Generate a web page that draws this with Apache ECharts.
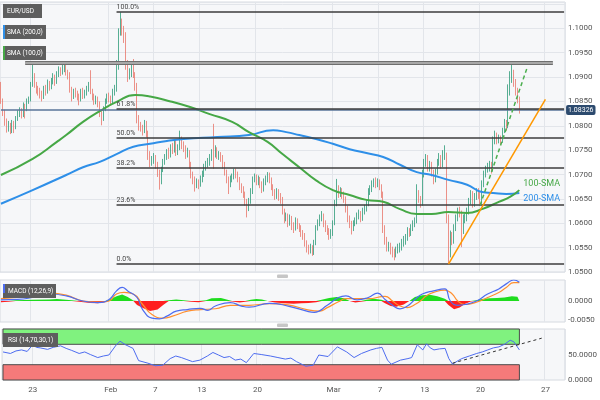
<!DOCTYPE html>
<html><head><meta charset="utf-8">
<script src="https://cdn.jsdelivr.net/npm/echarts@6/dist/echarts.min.js"></script>
<style>html,body{margin:0;padding:0;background:#fff}#c{width:600px;height:400px}</style>
</head><body><div id="c"></div>
<script>
// ---- axis ticks (4H slots, index of the labelled slot) ----
const slotCount = 303;
const tickIdx = [16,58,82,107,137,178,203,227,257,292];
const tickLabels = ['23','Feb','7','13','20','Mar','7','13','20','27'];

// ---- EUR/USD 4H candles ----
const firstOpen = 1.0885;
const closes = [
1.0850,1.0828,1.0808,1.0795,1.0800,1.0790,1.0805,1.0798,1.0815,1.0825,
1.0830,1.0822,1.0840,1.0835,1.0850,1.0855,1.0885,1.0900,1.0885,1.0875,
1.0870,1.0865,1.0860,1.0875,1.0870,1.0885,1.0880,1.0890,1.0900,1.0890,
1.0905,1.0915,1.0910,1.0918,1.0920,1.0910,1.0905,1.0875,1.0860,1.0870,
1.0865,1.0860,1.0855,1.0870,1.0862,1.0868,1.0875,1.0880,1.0870,1.0860,
1.0850,1.0855,1.0845,1.0825,1.0815,1.0835,1.0850,1.0860,1.0855,1.0850,
1.0870,1.0875,1.0920,1.0990,1.1010,1.0995,1.0985,1.0925,1.0905,1.0910,
1.0915,1.0905,1.0880,1.0815,1.0800,1.0795,1.0790,1.0805,1.0785,1.0740,
1.0725,1.0730,1.0735,1.0720,1.0705,1.0685,1.0710,1.0725,1.0735,1.0745,
1.0740,1.0755,1.0750,1.0765,1.0745,1.0755,1.0770,1.0760,1.0755,1.0740,
1.0745,1.0720,1.0700,1.0690,1.0680,1.0685,1.0680,1.0690,1.0700,1.0715,
1.0720,1.0725,1.0735,1.0745,1.0740,1.0750,1.0740,1.0740,1.0735,1.0720,
1.0705,1.0690,1.0680,1.0690,1.0695,1.0705,1.0700,1.0690,1.0675,1.0670,
1.0660,1.0645,1.0630,1.0645,1.0665,1.0690,1.0695,1.0685,1.0690,1.0680,
1.0670,1.0685,1.0690,1.0700,1.0690,1.0675,1.0665,1.0655,1.0665,1.0655,
1.0650,1.0625,1.0610,1.0615,1.0600,1.0610,1.0595,1.0590,1.0605,1.0595,
1.0590,1.0580,1.0575,1.0560,1.0548,1.0545,1.0550,1.0540,1.0560,1.0590,
1.0600,1.0610,1.0615,1.0600,1.0590,1.0585,1.0575,1.0580,1.0600,1.0640,
1.0670,1.0660,1.0665,1.0660,1.0650,1.0630,1.0610,1.0600,1.0590,1.0600,
1.0605,1.0615,1.0620,1.0610,1.0625,1.0630,1.0640,1.0665,1.0670,1.0680,
1.0685,1.0680,1.0685,1.0675,1.0660,1.0590,1.0565,1.0550,1.0555,1.0545,
1.0540,1.0535,1.0545,1.0550,1.0550,1.0560,1.0565,1.0570,1.0585,1.0580,
1.0590,1.0600,1.0605,1.0660,1.0650,1.0640,1.0700,1.0725,1.0735,1.0715,
1.0720,1.0705,1.0690,1.0705,1.0725,1.0735,1.0720,1.0740,1.0740,1.0610,
1.0540,1.0575,1.0565,1.0590,1.0610,1.0625,1.0620,1.0585,1.0610,1.0610,
1.0625,1.0645,1.0660,1.0640,1.0655,1.0665,1.0660,1.0645,1.0680,1.0700,
1.0710,1.0715,1.0720,1.0710,1.0770,1.0780,1.0770,1.0775,1.0770,1.0790,
1.0805,1.0800,1.0870,1.0895,1.0910,1.0890,1.0870,1.0855,1.0833];
const highs = [
1.0890,1.0856,1.0833,1.0815,1.0810,1.0806,1.0812,1.0810,1.0820,1.0832,
1.0838,1.0836,1.0848,1.0845,1.0856,1.0860,1.0890,1.0927,1.0908,1.0890,
1.0882,1.0878,1.0872,1.0882,1.0884,1.0895,1.0892,1.0898,1.0908,1.0905,
1.0912,1.0922,1.0920,1.0925,1.0929,1.0928,1.0915,1.0910,1.0880,1.0876,
1.0878,1.0872,1.0866,1.0876,1.0878,1.0874,1.0882,1.0890,1.0914,1.0876,
1.0866,1.0862,1.0860,1.0850,1.0830,1.0840,1.0856,1.0866,1.0868,1.0862,
1.0876,1.0884,1.0935,1.1000,1.1033,1.1020,1.1005,1.0992,1.0935,1.0918,
1.0925,1.0937,1.0910,1.0888,1.0822,1.0808,1.0802,1.0812,1.0810,1.0790,
1.0748,1.0738,1.0744,1.0740,1.0726,1.0710,1.0716,1.0732,1.0742,1.0752,
1.0755,1.0762,1.0765,1.0772,1.0770,1.0762,1.0790,1.0778,1.0768,1.0760,
1.0755,1.0750,1.0726,1.0706,1.0696,1.0692,1.0690,1.0698,1.0708,1.0722,
1.0728,1.0734,1.0742,1.0752,1.0804,1.0760,1.0756,1.0748,1.0746,1.0740,
1.0726,1.0710,1.0696,1.0698,1.0702,1.0712,1.0712,1.0706,1.0695,1.0682,
1.0676,1.0665,1.0650,1.0652,1.0672,1.0696,1.0702,1.0700,1.0698,1.0695,
1.0686,1.0692,1.0698,1.0705,1.0704,1.0694,1.0680,1.0670,1.0672,1.0670,
1.0662,1.0654,1.0630,1.0622,1.0620,1.0618,1.0615,1.0602,1.0612,1.0610,
1.0600,1.0596,1.0586,1.0580,1.0565,1.0556,1.0558,1.0555,1.0566,1.0596,
1.0608,1.0618,1.0625,1.0620,1.0606,1.0596,1.0590,1.0588,1.0606,1.0648,
1.0691,1.0678,1.0674,1.0672,1.0665,1.0655,1.0636,1.0616,1.0605,1.0606,
1.0612,1.0622,1.0628,1.0625,1.0632,1.0638,1.0648,1.0672,1.0678,1.0688,
1.0692,1.0694,1.0692,1.0690,1.0680,1.0665,1.0596,1.0572,1.0562,1.0560,
1.0552,1.0548,1.0552,1.0558,1.0560,1.0568,1.0574,1.0578,1.0592,1.0590,
1.0598,1.0606,1.0612,1.0680,1.0668,1.0656,1.0710,1.0732,1.0742,1.0740,
1.0728,1.0726,1.0710,1.0712,1.0732,1.0744,1.0740,1.0750,1.0760,1.0745,
1.0618,1.0585,1.0582,1.0598,1.0618,1.0632,1.0634,1.0626,1.0618,1.0620,
1.0632,1.0652,1.0668,1.0666,1.0662,1.0672,1.0672,1.0665,1.0688,1.0708,
1.0718,1.0724,1.0728,1.0726,1.0778,1.0790,1.0786,1.0782,1.0780,1.0796,
1.0814,1.0812,1.0885,1.0912,1.0930,1.0915,1.0896,1.0878,1.0860];
const lows = [
1.0845,1.0820,1.0800,1.0786,1.0788,1.0783,1.0785,1.0785,1.0793,1.0810,
1.0818,1.0815,1.0818,1.0815,1.0830,1.0845,1.0850,1.0880,1.0878,1.0866,
1.0862,1.0856,1.0850,1.0855,1.0862,1.0866,1.0872,1.0875,1.0885,1.0882,
1.0886,1.0900,1.0902,1.0905,1.0910,1.0903,1.0895,1.0868,1.0850,1.0855,
1.0858,1.0852,1.0842,1.0850,1.0855,1.0856,1.0862,1.0870,1.0865,1.0852,
1.0843,1.0844,1.0838,1.0818,1.0801,1.0810,1.0830,1.0845,1.0848,1.0842,
1.0845,1.0862,1.0870,1.0915,1.0985,1.0985,1.0970,1.0915,1.0890,1.0895,
1.0900,1.0898,1.0872,1.0805,1.0790,1.0788,1.0780,1.0785,1.0776,1.0730,
1.0715,1.0718,1.0722,1.0712,1.0695,1.0669,1.0680,1.0705,1.0720,1.0730,
1.0732,1.0735,1.0742,1.0745,1.0738,1.0740,1.0750,1.0752,1.0746,1.0732,
1.0735,1.0712,1.0692,1.0680,1.0665,1.0672,1.0670,1.0675,1.0684,1.0695,
1.0708,1.0714,1.0718,1.0728,1.0712,1.0735,1.0732,1.0730,1.0726,1.0712,
1.0698,1.0682,1.0660,1.0674,1.0684,1.0690,1.0692,1.0684,1.0668,1.0662,
1.0652,1.0636,1.0612,1.0625,1.0640,1.0660,1.0684,1.0678,1.0678,1.0672,
1.0662,1.0665,1.0678,1.0684,1.0682,1.0668,1.0656,1.0648,1.0650,1.0646,
1.0640,1.0618,1.0600,1.0604,1.0592,1.0595,1.0586,1.0580,1.0585,1.0588,
1.0582,1.0572,1.0566,1.0552,1.0540,1.0536,1.0538,1.0533,1.0535,1.0555,
1.0585,1.0594,1.0604,1.0592,1.0582,1.0576,1.0566,1.0568,1.0574,1.0596,
1.0635,1.0652,1.0654,1.0650,1.0642,1.0622,1.0602,1.0590,1.0577,1.0584,
1.0594,1.0598,1.0608,1.0602,1.0605,1.0618,1.0624,1.0635,1.0658,1.0664,
1.0674,1.0672,1.0674,1.0668,1.0652,1.0580,1.0556,1.0542,1.0542,1.0536,
1.0530,1.0524,1.0530,1.0538,1.0540,1.0544,1.0552,1.0556,1.0564,1.0572,
1.0574,1.0584,1.0592,1.0600,1.0642,1.0632,1.0636,1.0694,1.0716,1.0706,
1.0706,1.0696,1.0680,1.0684,1.0700,1.0718,1.0712,1.0715,1.0730,1.0600,
1.0516,1.0530,1.0555,1.0558,1.0584,1.0604,1.0612,1.0551,1.0578,1.0600,
1.0604,1.0618,1.0638,1.0632,1.0634,1.0648,1.0650,1.0636,1.0640,1.0674,
1.0694,1.0704,1.0706,1.0702,1.0706,1.0762,1.0762,1.0764,1.0762,1.0765,
1.0785,1.0790,1.0795,1.0862,1.0888,1.0880,1.0862,1.0846,1.0825];

// ---- moving averages [slot, value] ----
const sma100 = [[0,1.0699],[17,1.0732],[30,1.0767],[35,1.0781],[44,1.0808],[53,1.0830],[62,1.0849],[72,1.0863],[80,1.0860],[91,1.0850],[101,1.0839],[112,1.0824],[124,1.0808],[133,1.0787],[143,1.0767],[151,1.0742],[160,1.0715],[169,1.0688],[178,1.0668],[187,1.0658],[196,1.0648],[205,1.0644],[214,1.0629],[223,1.0619],[231,1.0619],[240,1.0623],[250,1.0621],[258,1.0629],[267,1.0644],[273,1.0654],[278,1.0668]];
const sma200 = [[0,1.0640],[17,1.0668],[35,1.0699],[44,1.0715],[53,1.0726],[62,1.0742],[71,1.0757],[80,1.0763],[89,1.0769],[98,1.0773],[116,1.0777],[133,1.0781],[146,1.0791],[153,1.0787],[160,1.0781],[169,1.0773],[178,1.0763],[187,1.0752],[196,1.0744],[205,1.0736],[214,1.0720],[223,1.0705],[231,1.0699],[240,1.0689],[250,1.0679],[258,1.0664],[264,1.0662],[271,1.0660],[278,1.0662]];

// ---- levels ----
const fibLevels = [1.1033,1.08355,1.07745,1.07135,1.0638,1.0516];
const fibLabels = ['100.0%','61.8%','50.0%','38.2%','23.6%','0.0%'];
const lastPrice = 1.08326;
const resistance = 1.0930;
const supportLine = [[240,1.0516],[292,1.0854]];
const channelLine = [[257,1.0637],[282,1.0917]];

// ---- MACD (12,26,9) [slot, value] ----
const macdLine = [[0,0.0003],[9,0.0004],[17,0.0009],[26,0.0018],[35,0.0013],[44,0.0000],[52,-0.0004],[58,0.0004],[62,0.0026],[65,0.0035],[68,0.0026],[73,0.0009],[76,-0.0022],[81,-0.0044],[85,-0.0046],[89,-0.0039],[94,-0.0026],[100,-0.0022],[107,-0.0019],[111,-0.0024],[115,-0.0013],[123,-0.0004],[129,-0.0013],[133,-0.0016],[144,-0.0006],[154,-0.0013],[164,-0.0026],[168,-0.0029],[175,-0.0011],[181,0.0009],[185,0.0013],[191,0.0003],[197,0.0009],[202,0.0020],[206,0.0004],[210,-0.0011],[214,-0.0020],[218,-0.0013],[222,0.0004],[226,0.0018],[232,0.0026],[238,0.0031],[241,0.0000],[245,-0.0011],[249,-0.0009],[255,0.0000],[261,0.0018],[267,0.0031],[271,0.0044],[275,0.0054],[278,0.0048]];
const signalLine = [[0,0.0006],[17,0.0013],[26,0.0020],[35,0.0015],[44,0.0000],[53,-0.0003],[58,0.0000],[62,0.0018],[66,0.0022],[71,0.0018],[76,-0.0009],[81,-0.0035],[87,-0.0044],[92,-0.0039],[100,-0.0026],[107,-0.0022],[115,-0.0020],[123,-0.0011],[133,-0.0011],[144,-0.0007],[154,-0.0010],[164,-0.0022],[171,-0.0026],[175,-0.0017],[181,-0.0002],[185,0.0006],[197,0.0006],[206,0.0012],[210,0.0000],[214,-0.0013],[218,-0.0017],[222,-0.0009],[226,0.0004],[228,0.0013],[232,0.0022],[238,0.0028],[242,0.0018],[245,0.0000],[249,-0.0009],[255,-0.0003],[261,0.0009],[267,0.0022],[271,0.0035],[275,0.0047],[278,0.0047]];
const macdHist = [[0,-0.0003],[4,-0.0002],[8,0.0002],[17,0.0003],[26,0.0004],[30,0.0005],[38,0.0002],[42,-0.0002],[48,-0.0005],[52,-0.0006],[56,-0.0002],[58,0.0003],[62,0.0012],[65,0.0017],[68,0.0010],[71,0.0001],[73,-0.0010],[77,-0.0020],[80,-0.0026],[84,-0.0022],[87,-0.0010],[90,0.0002],[94,0.0004],[98,0.0002],[102,-0.0002],[106,-0.0003],[110,0.0002],[113,0.0007],[118,0.0008],[121,0.0004],[124,-0.0001],[128,-0.0004],[131,-0.0002],[134,0.0003],[137,0.0005],[140,0.0004],[143,0.0000],[147,-0.0004],[152,-0.0006],[157,-0.0007],[161,-0.0006],[165,-0.0005],[169,-0.0003],[172,0.0003],[176,0.0008],[180,0.0010],[184,0.0007],[187,0.0000],[190,-0.0004],[193,-0.0002],[196,0.0003],[200,0.0006],[204,0.0003],[206,-0.0006],[209,-0.0013],[212,-0.0015],[216,-0.0009],[219,0.0000],[222,0.0010],[226,0.0015],[230,0.0016],[234,0.0012],[238,0.0006],[240,-0.0010],[243,-0.0021],[246,-0.0017],[249,-0.0007],[252,-0.0001],[255,0.0002],[258,0.0005],[262,0.0007],[266,0.0008],[270,0.0009],[274,0.0012],[277,0.0011],[278,0.0006]];

// ---- RSI (14) [slot, value] ----
const rsiLine = [[0,55],[4,52],[7,57],[10,59],[13,56],[16,69],[18,64],[20,63],[24,60],[27,64],[31,67],[34,62],[37,58],[41,52],[44,55],[47,50],[51,44],[54,47],[57,49],[61,69],[63,76],[66,69],[70,62],[73,38],[78,33],[82,28],[86,29],[90,42],[93,47],[96,44],[99,40],[102,36],[106,39],[110,47],[113,54],[116,49],[119,44],[122,46],[125,39],[128,41],[131,34],[135,52],[139,50],[144,47],[148,44],[152,41],[155,43],[158,36],[163,27],[167,29],[170,49],[175,46],[180,65],[185,55],[189,44],[193,52],[198,59],[201,62],[204,64],[207,39],[209,31],[214,39],[218,42],[220,44],[223,69],[226,59],[228,71],[230,63],[232,59],[235,61],[238,62],[240,42],[242,31],[245,38],[247,42],[251,47],[255,52],[258,55],[261,59],[264,63],[267,65],[270,70],[273,78],[275,75],[276,73],[278,59]];
const rsiTrend = [[242,33],[290,82]];

// ---- build ----
const cats = Array.from({length: slotCount}, (_, i) => {
  const k = tickIdx.indexOf(i); return k >= 0 ? tickLabels[k] : '';
});
const candles = closes.map((c, i) => [i === 0 ? firstOpen : closes[i - 1], c, lows[i], highs[i]]);
const histPos = macdHist.map(([i, v]) => [i, Math.max(v, 0)]);
const histNeg = macdHist.map(([i, v]) => [i, Math.min(v, 0)]);

const FONT = 'Roboto, sans-serif';
const gridStyle = {show: true, left: 0, width: 565, backgroundColor: '#f6f7f9', borderColor: '#d6dae0', borderWidth: 1};
function xAx(g, showLabel) {
  return {type: 'category', gridIndex: g, data: cats, boundaryGap: true,
    axisLine: {show: false}, axisTick: {show: false},
    axisLabel: {show: showLabel, interval: 0, color: '#555', fontSize: 8, fontFamily: FONT, margin: 6},
    splitLine: {show: true, interval: (i) => tickIdx.includes(i), lineStyle: {color: '#e2e5ea', width: 1}}};
}
const yLab = {color: '#555', fontSize: 8, fontFamily: FONT, margin: 3};

const fibMarks = fibLevels.map((v, k) => [
  {coord: [62, v], lineStyle: {color: '#3c3c3c', width: 1.5, type: 'solid'},
   label: {show: true, formatter: fibLabels[k], position: 'insideStartTop', distance: [0, 1], color: '#444', fontSize: 7, fontFamily: FONT}},
  {coord: [302, v]}
]);

const option = {
  animation: false,
  backgroundColor: '#ffffff',
  grid: [
    Object.assign({top: 2, height: 270}, gridStyle),
    Object.assign({top: 280, height: 42}, gridStyle),
    Object.assign({top: 329, height: 51}, gridStyle)
  ],
  xAxis: [xAx(0, false), xAx(1, false), xAx(2, true)],
  yAxis: [
    {type: 'value', gridIndex: 0, position: 'right', min: 1.05, max: 1.1054, interval: 0.005,
     axisLine: {show: false}, axisTick: {show: false},
     axisLabel: Object.assign({showMaxLabel: false, formatter: v => v > 1.1001 ? '' : v.toFixed(4)}, yLab),
     splitLine: {lineStyle: {color: '#e2e5ea'}}},
    {type: 'value', gridIndex: 1, position: 'right', min: -0.0054, max: 0.0054,
     axisLine: {show: false}, axisTick: {show: false},
     axisLabel: Object.assign({customValues: [-0.005, 0], formatter: v => v.toFixed(4)}, yLab),
     splitLine: {show: false}},
    {type: 'value', gridIndex: 2, position: 'right', min: 0, max: 100,
     axisLine: {show: false}, axisTick: {show: false},
     axisLabel: Object.assign({customValues: [0, 50], formatter: v => v.toFixed(4)}, yLab),
     splitLine: {show: false}}
  ],
  series: [
    {type: 'candlestick', xAxisIndex: 0, yAxisIndex: 0, data: candles, barWidth: '55%', z: 2,
     itemStyle: {color: '#2e9a78', color0: '#e8766b', borderColor: '#2e9a78', borderColor0: '#e8766b', borderWidth: 0.8},
     markLine: {silent: true, symbol: ['none', 'none'], animation: false,
       data: [
         [{coord: [13, resistance], lineStyle: {color: '#6e6e6e', width: 4, type: 'solid'}, label: {show: false}}, {coord: [296, resistance]}],
         [{coord: [13, resistance], lineStyle: {color: '#bdbdbd', width: 1.6, type: 'solid'}, label: {show: false}}, {coord: [296, resistance]}],
         [{coord: [0, lastPrice], lineStyle: {color: '#587499', width: 1.5, type: 'solid'},
           label: {show: true, position: 'end', distance: 2, formatter: '1.08326', color: '#fff', backgroundColor: '#2c4a6e',
                   padding: [2, 2, 1, 2], borderRadius: 2, fontSize: 7, fontFamily: FONT}},
          {coord: [302, lastPrice]}]
       ].concat(fibMarks).concat([
         [{coord: supportLine[0], lineStyle: {color: '#ff9800', width: 1.5, type: 'solid'}, label: {show: false}}, {coord: supportLine[1]}],
         [{coord: channelLine[0], lineStyle: {color: '#4caf50', width: 1.5, type: [4, 3]}, label: {show: false}}, {coord: channelLine[1]}]
       ])}},
    {type: 'line', name: 'SMA 200', xAxisIndex: 0, yAxisIndex: 0, data: sma200, smooth: true, symbol: 'none', z: 4,
     lineStyle: {color: '#2e8fe8', width: 2},
     endLabel: {show: true, formatter: '200-SMA', color: '#2e8fe8', fontSize: 9, fontFamily: FONT, offset: [-4, 6]}},
    {type: 'line', name: 'SMA 100', xAxisIndex: 0, yAxisIndex: 0, data: sma100, smooth: true, symbol: 'none', z: 4,
     lineStyle: {color: '#46a846', width: 2},
     endLabel: {show: true, formatter: '100-SMA', color: '#46a846', fontSize: 9, fontFamily: FONT, offset: [-4, -6]}},
    {type: 'line', xAxisIndex: 1, yAxisIndex: 1, data: histPos, symbol: 'none', z: 2,
     lineStyle: {width: 0}, areaStyle: {color: '#1fdc1f', opacity: 1}},
    {type: 'line', xAxisIndex: 1, yAxisIndex: 1, data: histNeg, symbol: 'none', z: 2,
     lineStyle: {width: 0}, areaStyle: {color: '#ff1f1f', opacity: 1}},
    {type: 'line', xAxisIndex: 1, yAxisIndex: 1, data: signalLine, smooth: true, symbol: 'none', z: 3,
     lineStyle: {color: '#ff8f2e', width: 1.2}},
    {type: 'line', xAxisIndex: 1, yAxisIndex: 1, data: macdLine, smooth: true, symbol: 'none', z: 3,
     lineStyle: {color: '#4d6cf0', width: 1.2}},
    {type: 'line', xAxisIndex: 2, yAxisIndex: 2, data: [], z: 1,
     markArea: {silent: true, data: [
       [{coord: [0, 70], itemStyle: {color: '#80f27f', borderColor: '#4b4b4b', borderWidth: 1}}, {coord: [278, 100]}],
       [{coord: [0, 0], itemStyle: {color: '#f57a7a', borderColor: '#4b4b4b', borderWidth: 1}}, {coord: [278, 30]}]
     ]}},
    {type: 'line', xAxisIndex: 2, yAxisIndex: 2, data: rsiLine, symbol: 'none', z: 3,
     lineStyle: {color: '#4d6cf0', width: 1},
     markLine: {silent: true, symbol: ['none', 'none'], data: [
       [{coord: rsiTrend[0], lineStyle: {color: '#333', width: 1, type: [3, 3]}, label: {show: false}}, {coord: rsiTrend[1]}]
     ]}}
  ],
  graphic: [
    {type: 'rect', shape: {x: 3, y: 4, width: 39, height: 14}, style: {fill: '#5e5e5e'}, z: 10},
    {type: 'text', x: 7, y: 11, style: {text: 'EUR/USD', fill: '#fff', font: '6.5px Roboto', verticalAlign: 'middle'}, z: 11},
    {type: 'rect', shape: {x: 3, y: 25, width: 43, height: 14}, style: {fill: '#5e5e5e'}, z: 10},
    {type: 'rect', shape: {x: 3, y: 25, width: 2, height: 14}, style: {fill: '#2e8fe8'}, z: 11},
    {type: 'text', x: 7, y: 32, style: {text: 'SMA (200,0)', fill: '#fff', font: '6.5px Roboto', verticalAlign: 'middle'}, z: 11},
    {type: 'rect', shape: {x: 3, y: 46, width: 43, height: 14}, style: {fill: '#5e5e5e'}, z: 10},
    {type: 'rect', shape: {x: 3, y: 46, width: 2, height: 14}, style: {fill: '#46a846'}, z: 11},
    {type: 'text', x: 7, y: 53, style: {text: 'SMA (100,0)', fill: '#fff', font: '6.5px Roboto', verticalAlign: 'middle'}, z: 11},
    {type: 'rect', shape: {x: 3, y: 284, width: 53, height: 14}, style: {fill: '#5e5e5e'}, z: 10},
    {type: 'rect', shape: {x: 3, y: 284, width: 2, height: 9}, style: {fill: '#4d6cf0'}, z: 11},
    {type: 'text', x: 8, y: 291, style: {text: 'MACD (12,26,9)', fill: '#fff', font: '6.5px Roboto', verticalAlign: 'middle'}, z: 11},
    {type: 'rect', shape: {x: 3, y: 333, width: 55, height: 14}, style: {fill: '#5e5e5e'}, z: 10},
    {type: 'text', x: 8, y: 340, style: {text: 'RSI (14,70,30,1)', fill: '#fff', font: '6.5px Roboto', verticalAlign: 'middle'}, z: 11},
    {type: 'rect', shape: {x: 277, y: 274.5, width: 11, height: 3.5, r: 1}, style: {fill: '#c6c6c6'}, z: 10},
    {type: 'rect', shape: {x: 277, y: 323.5, width: 11, height: 3.5, r: 1}, style: {fill: '#c6c6c6'}, z: 10}
  ]
};
const chart = echarts.init(document.getElementById('c'), null, {renderer: 'canvas'});
chart.setOption(option);
</script>
</body></html>
